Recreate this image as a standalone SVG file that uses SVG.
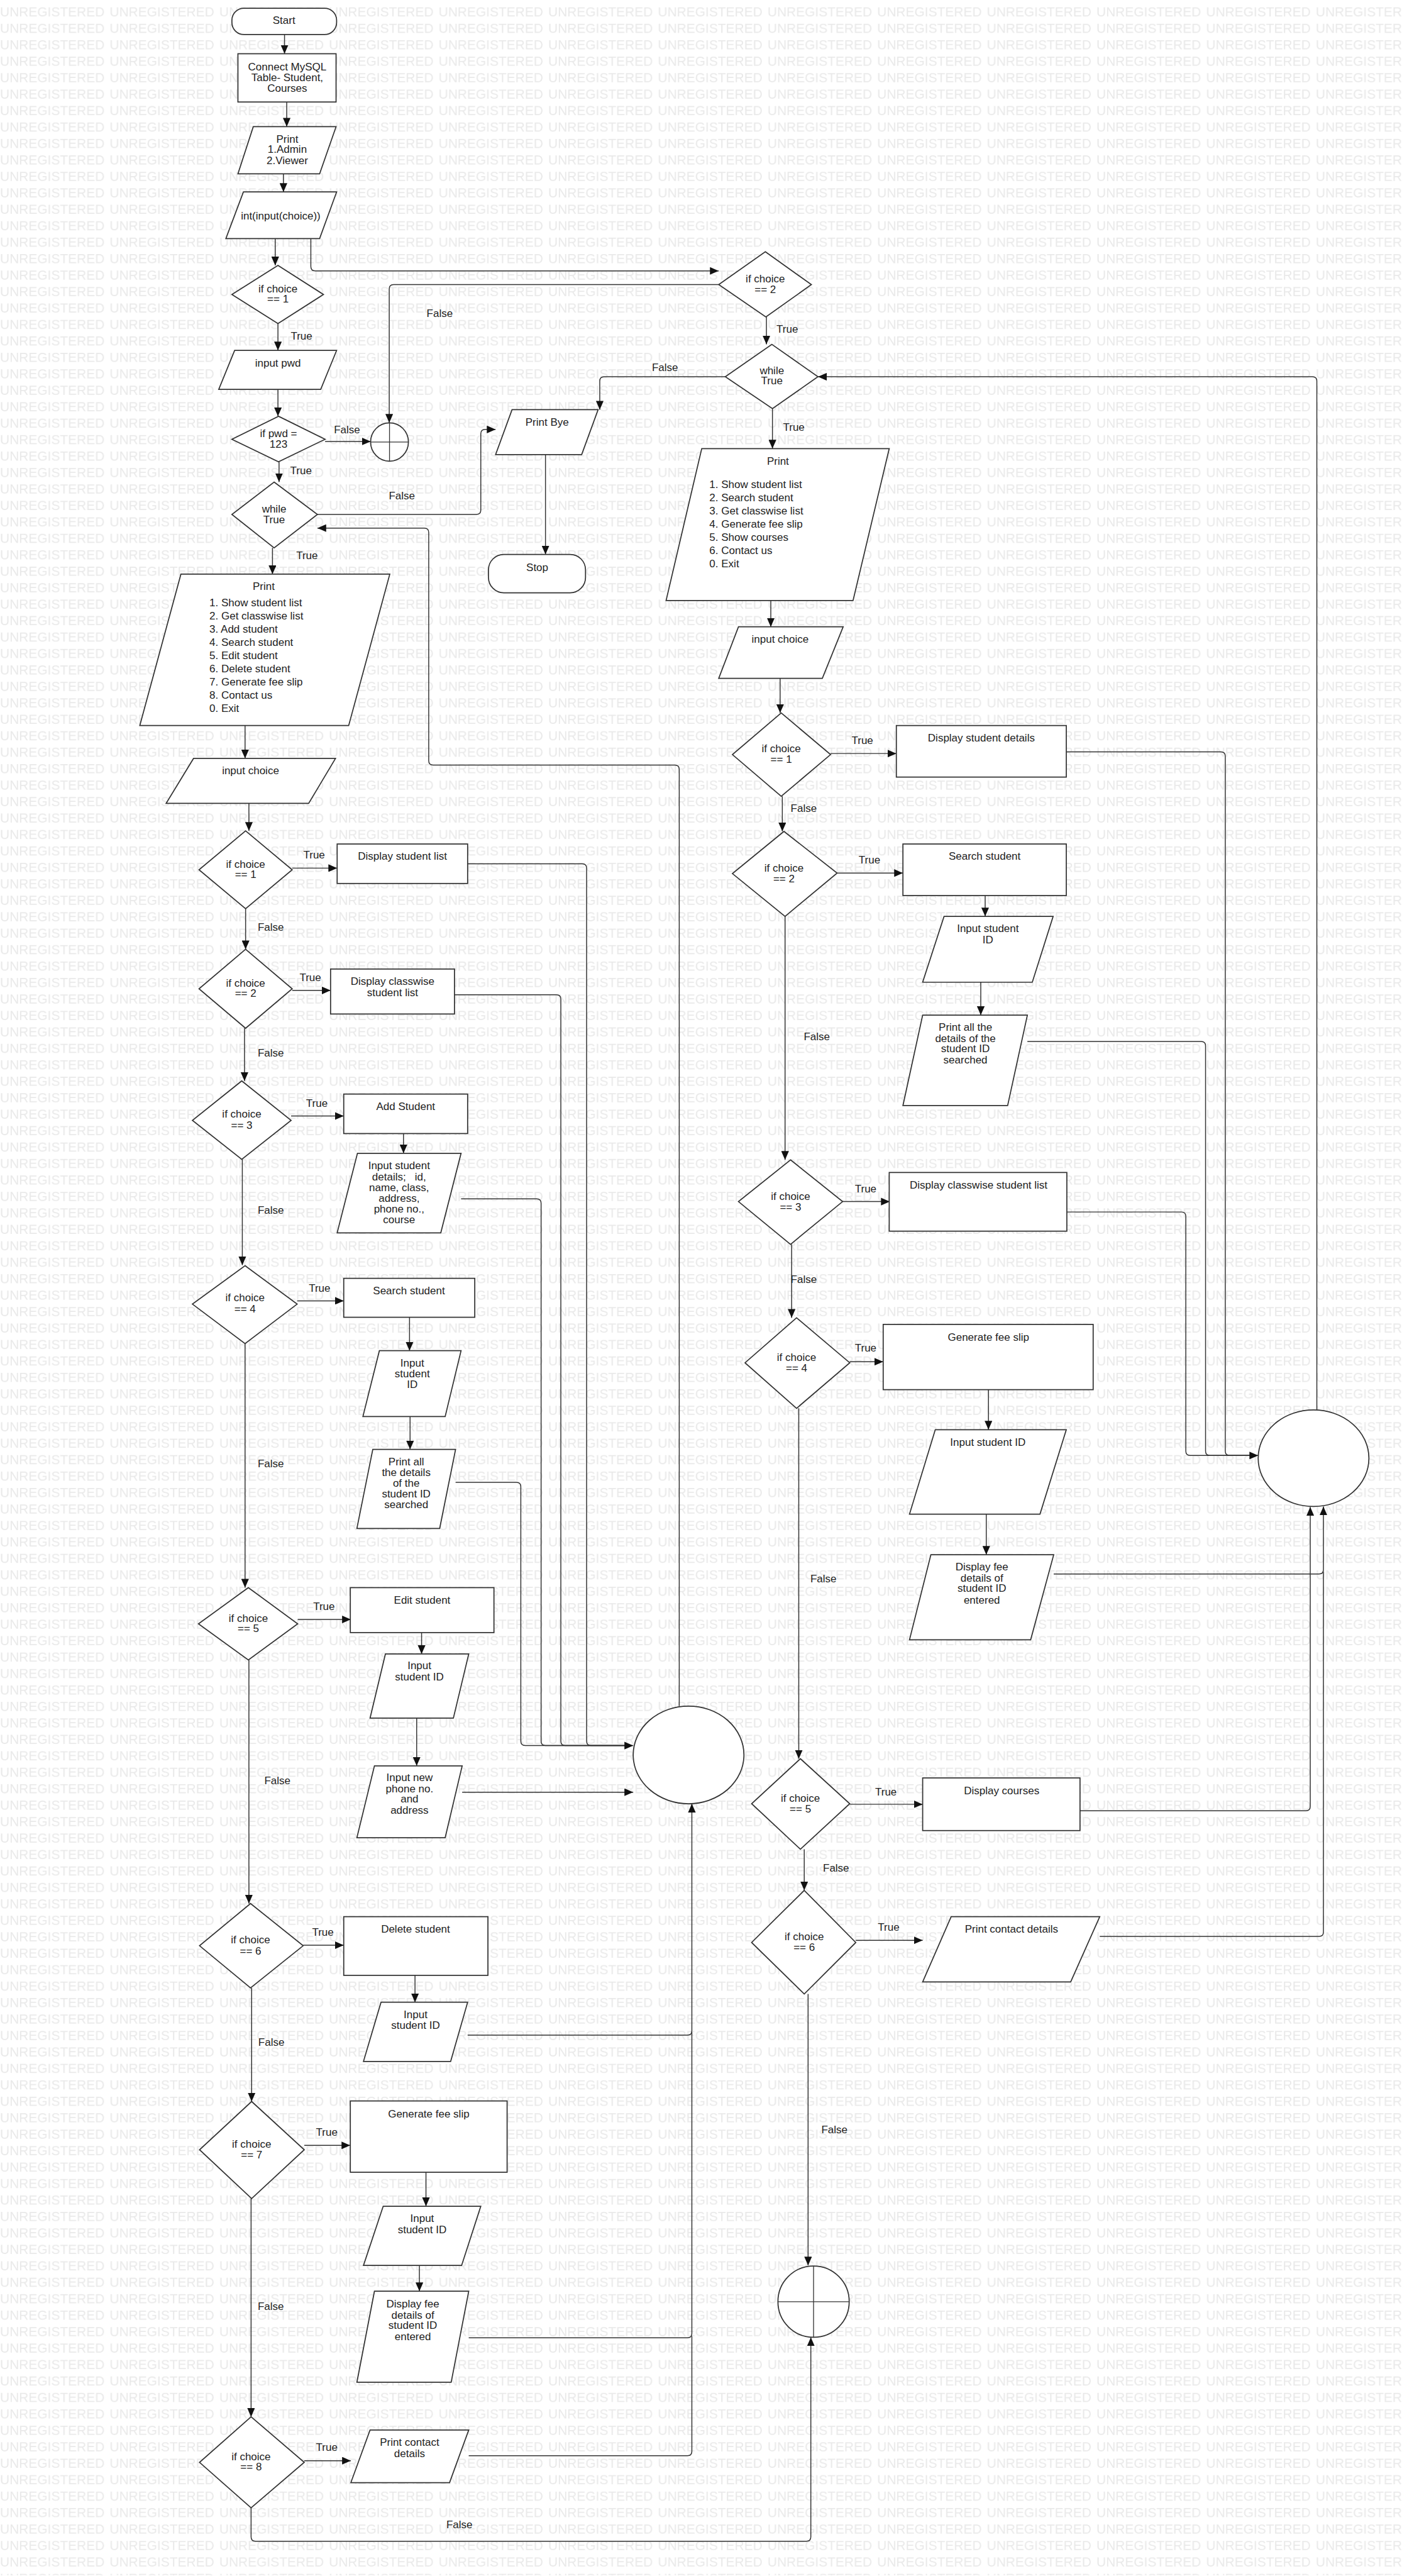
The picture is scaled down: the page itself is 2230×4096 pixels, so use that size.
<svg xmlns="http://www.w3.org/2000/svg" width="2230" height="4096" viewBox="0 0 2230 4096">
<defs>
<style>
.s{fill:#fff;stroke:#333;stroke-width:2}
.c{fill:none;stroke:#333;stroke-width:1.7}
.a{marker-end:url(#ah)}
.t{font-family:"Liberation Sans",Arial,sans-serif;font-size:19.5px;fill:#222;text-anchor:middle}
.l{font-family:"Liberation Sans",Arial,sans-serif;font-size:19.5px;fill:#222}
.x{fill:none;stroke:#333;stroke-width:1.5}
</style>
<marker id="ah" viewBox="0 0 16 14" refX="16" refY="7" markerWidth="16" markerHeight="14" markerUnits="userSpaceOnUse" orient="auto"><path d="M0,0 L16,7 L0,14 z" fill="#111"/></marker>
<pattern id="wm" x="0" y="10" width="200" height="30" patternUnits="userSpaceOnUse"><text x="0" y="20.5" font-family="Liberation Sans, Arial, sans-serif" font-size="24" fill="#e9e9e9">UNREGISTERED</text></pattern>
</defs>
<rect width="2230" height="4096" fill="#fff"/>
<g transform="scale(0.872)">
<rect width="2557" height="4696" fill="url(#wm)"/>
<g id="connectors">
<path class="c a" d="M519,63 V98"/>
<path class="c a" d="M523,186 V231"/>
<path class="c a" d="M517,317 V350"/>
<path class="c a" d="M502,435 V484"/>
<path class="c a" d="M567,435 V486 Q567,494 575,494 H1311"/>
<path class="c a" d="M1311,519 H718 Q710,519 710,527 V771"/>
<path class="c a" d="M507,590 V639"/>
<path class="c a" d="M507,710 V759"/>
<path class="c a" d="M593,805 H676"/>
<path class="c a" d="M509,842 V879"/>
<path class="c a" d="M497,999 V1047"/>
<path class="c a" d="M579,938 H869 Q877,938 877,930 V791 Q877,783 885,783 H904"/>
<path class="c a" d="M1398,578 V628"/>
<path class="c a" d="M1323,687 H1102 Q1094,687 1094,695 V747"/>
<path class="c a" d="M995,829 V1011"/>
<path class="c a" d="M1409,745 V818"/>
<path class="c a" d="M2402,2571 V695 Q2402,687 2394,687 H1492"/>
<path class="c a" d="M1239,3111 V1403 Q1239,1395 1231,1395 H790 Q782,1395 782,1387 V971 Q782,963 774,963 H579"/>
<path class="c a" d="M447,1323 V1383"/>
<path class="c a" d="M454,1465 V1515"/>
<path class="c a" d="M533,1583 H615"/>
<path class="c" d="M853,1575 H1062 Q1070,1575 1070,1583 V3175 Q1070,3183 1078,3183 H1150"/>
<path class="c a" d="M448,1657 V1731"/>
<path class="c a" d="M533,1806 H603"/>
<path class="c" d="M829,1814 H1015 Q1023,1814 1023,1822 V3175 Q1023,3183 1031,3183 H1150"/>
<path class="c a" d="M446,1875 V1971"/>
<path class="c a" d="M531,2035 H627"/>
<path class="c a" d="M736,2067 V2103"/>
<path class="c" d="M841,2186 H979 Q987,2186 987,2194 V3175 Q987,3183 995,3183 H1150"/>
<path class="c a" d="M442,2114 V2307"/>
<path class="c a" d="M542,2372 H627"/>
<path class="c a" d="M747,2402 V2463"/>
<path class="c a" d="M748,2583 V2643"/>
<path class="c a" d="M831,2703 H942 Q950,2703 950,2711 V3175 Q950,3183 958,3183 H1155"/>
<path class="c a" d="M447,2450 V2895"/>
<path class="c a" d="M543,2953 H640"/>
<path class="c a" d="M769,2977 V3016"/>
<path class="c a" d="M760,3133 V3220"/>
<path class="c a" d="M843,3268 H1155"/>
<path class="c a" d="M454,3027 V3471"/>
<path class="c a" d="M553,3547 H627"/>
<path class="c a" d="M757,3602 V3651"/>
<path class="c a" d="M853,3711 H1254 Q1262,3711 1262,3703 V3289"/>
<path class="c a" d="M459,3625 V3832"/>
<path class="c a" d="M555,3912 H639"/>
<path class="c a" d="M777,3961 V4023"/>
<path class="c a" d="M765,4131 V4178"/>
<path class="c" d="M855,4263 H1254 Q1262,4263 1262,4255 V3705"/>
<path class="c a" d="M458,4009 V4407"/>
<path class="c a" d="M555,4487 H640"/>
<path class="c" d="M855,4478 H1254 Q1262,4478 1262,4470 V4260"/>
<path class="c a" d="M458,4573 V4626 Q458,4634 466,4634 H1471 Q1479,4634 1479,4626 V4262"/>
<path class="c a" d="M1406,1095 V1143"/>
<path class="c a" d="M1423,1237 V1300"/>
<path class="c a" d="M1515,1374 H1635"/>
<path class="c" d="M1945,1371 H2227 Q2235,1371 2235,1379 V2646 Q2235,2654 2243,2654 H2290"/>
<path class="c a" d="M1427,1452 V1516"/>
<path class="c a" d="M1527,1592 H1647"/>
<path class="c a" d="M1797,1633 V1671"/>
<path class="c a" d="M1789,1791 V1851"/>
<path class="c" d="M1874,1899 H2191 Q2199,1899 2199,1907 V2646 Q2199,2654 2207,2654 H2290"/>
<path class="c a" d="M1432,1671 V2115"/>
<path class="c a" d="M1537,2191 H1623"/>
<path class="c a" d="M1946,2210 H2155 Q2163,2210 2163,2218 V2646 Q2163,2654 2171,2654 H2295"/>
<path class="c a" d="M1444,2269 V2403"/>
<path class="c a" d="M1550,2483 H1611"/>
<path class="c a" d="M1803,2534 V2607"/>
<path class="c a" d="M1799,2761 V2835"/>
<path class="c a" d="M1922,2870 H2406 Q2414,2870 2414,2862 V2747"/>
<path class="c a" d="M1457,2568 V3207"/>
<path class="c a" d="M1550,3290 H1683"/>
<path class="c a" d="M1970,3302 H2382 Q2390,3302 2390,3294 V2748"/>
<path class="c a" d="M1467,3372 V3447"/>
<path class="c a" d="M1561,3538 H1683"/>
<path class="c" d="M2006,3531 H2406 Q2414,3531 2414,3523 V2866"/>
<path class="c a" d="M1474,3636 V4131"/>
<g id="labels">
<text class="t" x="550" y="619">True</text>
<text class="t" x="633" y="790">False</text>
<text class="t" x="549" y="865">True</text>
<text class="t" x="802" y="578">False</text>
<text class="t" x="560" y="1019">True</text>
<text class="t" x="733" y="911">False</text>
<text class="t" x="1436" y="607">True</text>
<text class="t" x="1213" y="677">False</text>
<text class="t" x="1448" y="785">True</text>
<text class="t" x="573" y="1565">True</text>
<text class="t" x="494" y="1697">False</text>
<text class="t" x="566" y="1789">True</text>
<text class="t" x="494" y="1927">False</text>
<text class="t" x="578" y="2018">True</text>
<text class="t" x="494" y="2213">False</text>
<text class="t" x="583" y="2356">True</text>
<text class="t" x="494" y="2675">False</text>
<text class="t" x="591" y="2936">True</text>
<text class="t" x="506" y="3253">False</text>
<text class="t" x="589" y="3530">True</text>
<text class="t" x="495" y="3731">False</text>
<text class="t" x="596" y="3895">True</text>
<text class="t" x="494" y="4212">False</text>
<text class="t" x="596" y="4469">True</text>
<text class="t" x="838" y="4610">False</text>
<text class="t" x="1573" y="1357">True</text>
<text class="t" x="1466" y="1481">False</text>
<text class="t" x="1586" y="1574">True</text>
<text class="t" x="1490" y="1897">False</text>
<text class="t" x="1579" y="2174">True</text>
<text class="t" x="1466" y="2339">False</text>
<text class="t" x="1579" y="2465">True</text>
<text class="t" x="1502" y="2885">False</text>
<text class="t" x="1616" y="3274">True</text>
<text class="t" x="1525" y="3413">False</text>
<text class="t" x="1621" y="3521">True</text>
<text class="t" x="1522" y="3890">False</text>
</g>
</g>
<g id="start"><rect class="s" x="423" y="15" width="191" height="48" rx="22"/><text class="t" x="518" y="44">Start</text></g>
<g id="connect"><rect class="s" x="434" y="98" width="179" height="88"/><text class="t" x="524" y="128">Connect MySQL</text><text class="t" x="524" y="148">Table- Student,</text><text class="t" x="524" y="168">Courses</text></g>
<g id="printRole"><polygon class="s" points="462,231 613,231 583,317 434,317"/><text class="t" x="524" y="260">Print</text><text class="t" x="524" y="279">1.Admin</text><text class="t" x="524" y="299">2.Viewer</text></g>
<g id="inputChoice0"><polygon class="s" points="444,350 614,350 583,435 412,435"/><text class="t" x="512" y="400">int(input(choice))</text></g>
<g id="c1"><polygon class="s" points="507,484 590,537 507,590 423,537"/><text class="t" x="507" y="533">if choice</text><text class="t" x="507" y="552">== 1</text></g>
<g id="inputPwd"><polygon class="s" points="428,639 614,639 585,710 399,710"/><text class="t" x="507" y="669">input pwd</text></g>
<g id="pwd"><polygon class="s" points="508,759 593,801 508,842 423,801"/><text class="t" x="508" y="797">if pwd =</text><text class="t" x="508" y="816">123</text></g>
<g id="conn1"><ellipse class="s" cx="710.5" cy="806" rx="34.5" ry="35"/><path class="x" d="M676,806 H745 M710.5,771 V841"/></g>
<g id="whileL"><polygon class="s" points="500,879 579,938 500,999 423,938"/><text class="t" x="500" y="935">while</text><text class="t" x="500" y="954">True</text></g>
<g id="printBye"><polygon class="s" points="934,747 1091,747 1061,829 904,829"/><text class="t" x="998" y="776">Print Bye</text></g>
<g id="stop"><rect class="s" x="891" y="1011" width="177" height="70" rx="28"/><text class="t" x="980" y="1041">Stop</text></g>
<g id="menuL"><polygon class="s" points="330,1047 711,1047 636,1323 255,1323"/><text class="t" x="481" y="1076">Print</text>
<text class="l" x="382" y="1106">1. Show student list</text>
<text class="l" x="382" y="1130">2. Get classwise list</text>
<text class="l" x="382" y="1154">3. Add student</text>
<text class="l" x="382" y="1178">4. Search student</text>
<text class="l" x="382" y="1202">5. Edit student</text>
<text class="l" x="382" y="1226">6. Delete student</text>
<text class="l" x="382" y="1250">7. Generate fee slip</text>
<text class="l" x="382" y="1274">8. Contact us</text>
<text class="l" x="382" y="1298">0. Exit</text></g>
<g id="inputChoiceL"><polygon class="s" points="353,1383 612,1383 563,1465 303,1465"/><text class="t" x="457" y="1412">input choice</text></g>
<g id="l1"><polygon class="s" points="448,1515 533,1586 448,1657 363,1586"/><text class="t" x="448" y="1582">if choice</text><text class="t" x="448" y="1601">== 1</text></g>
<g id="dispList"><rect class="s" x="615" y="1539" width="238" height="72"/><text class="t" x="734" y="1568">Display student list</text></g>
<g id="l2"><polygon class="s" points="448,1731 533,1803 448,1875 363,1803"/><text class="t" x="448" y="1799">if choice</text><text class="t" x="448" y="1818">== 2</text></g>
<g id="dispClass"><rect class="s" x="603" y="1767" width="226" height="82"/><text class="t" x="716" y="1796">Display classwise</text><text class="t" x="716" y="1816">student list</text></g>
<g id="l3"><polygon class="s" points="441,1971 531,2043 441,2114 351,2043"/><text class="t" x="441" y="2038">if choice</text><text class="t" x="441" y="2058">== 3</text></g>
<g id="addStudent"><rect class="s" x="627" y="1995" width="226" height="72"/><text class="t" x="740" y="2024">Add Student</text></g>
<g id="inputDetails"><polygon class="s" points="652,2103 841,2103 804,2248 615,2248"/><text class="t" x="728" y="2132">Input student</text><text class="t" x="728" y="2152" style="white-space:pre">details;   id,</text><text class="t" x="728" y="2172">name, class,</text><text class="t" x="728" y="2191">address,</text><text class="t" x="728" y="2211">phone no.,</text><text class="t" x="728" y="2230">course</text></g>
<g id="l4"><polygon class="s" points="447,2308 542,2378 447,2450 351,2378"/><text class="t" x="447" y="2373">if choice</text><text class="t" x="447" y="2393">== 4</text></g>
<g id="searchL"><rect class="s" x="627" y="2331" width="239" height="71"/><text class="t" x="746" y="2360">Search student</text></g>
<g id="inputIdL4"><polygon class="s" points="692,2463 841,2463 812,2583 662,2583"/><text class="t" x="752" y="2492">Input</text><text class="t" x="752" y="2512">student</text><text class="t" x="752" y="2531">ID</text></g>
<g id="printAllL"><polygon class="s" points="680,2643 831,2643 802,2787 651,2787"/><text class="t" x="741" y="2672">Print all</text><text class="t" x="741" y="2692">the details</text><text class="t" x="741" y="2711">of the</text><text class="t" x="741" y="2731">student ID</text><text class="t" x="741" y="2750">searched</text></g>
<g id="l5"><polygon class="s" points="453,2895 543,2961 453,3027 362,2961"/><text class="t" x="453" y="2957">if choice</text><text class="t" x="453" y="2976">== 5</text></g>
<g id="editStudent"><rect class="s" x="639" y="2895" width="262" height="82"/><text class="t" x="770" y="2924">Edit student</text></g>
<g id="inputIdL5"><polygon class="s" points="703,3016 855,3016 827,3133 675,3133"/><text class="t" x="765" y="3044">Input</text><text class="t" x="765" y="3064">student ID</text></g>
<g id="inputNew"><polygon class="s" points="683,3220 843,3220 812,3351 651,3351"/><text class="t" x="747" y="3248">Input new</text><text class="t" x="747" y="3268">phone no.</text><text class="t" x="747" y="3287">and</text><text class="t" x="747" y="3307">address</text></g>
<g id="mergeL"><ellipse class="s" cx="1256" cy="3200" rx="101" ry="89"/></g>
<g id="l6"><polygon class="s" points="457,3471 553,3548 457,3625 364,3548"/><text class="t" x="457" y="3544">if choice</text><text class="t" x="457" y="3564">== 6</text></g>
<g id="deleteStudent"><rect class="s" x="627" y="3495" width="263" height="107"/><text class="t" x="758" y="3524">Delete student</text></g>
<g id="inputIdL6"><polygon class="s" points="695,3651 853,3651 822,3759 663,3759"/><text class="t" x="758" y="3680">Input</text><text class="t" x="758" y="3700">student ID</text></g>
<g id="l7"><polygon class="s" points="459,3832 555,3920 459,4009 364,3920"/><text class="t" x="459" y="3916">if choice</text><text class="t" x="459" y="3936">== 7</text></g>
<g id="feeSlipL"><rect class="s" x="639" y="3831" width="286" height="130"/><text class="t" x="782" y="3861">Generate fee slip</text></g>
<g id="inputIdL7"><polygon class="s" points="699,4023 877,4023 842,4131 663,4131"/><text class="t" x="770" y="4052">Input</text><text class="t" x="770" y="4072">student ID</text></g>
<g id="dispFeeL"><polygon class="s" points="683,4178 855,4178 823,4344 651,4344"/><text class="t" x="753" y="4208">Display fee</text><text class="t" x="753" y="4228">details of</text><text class="t" x="753" y="4247">student ID</text><text class="t" x="753" y="4267">entered</text></g>
<g id="l8"><polygon class="s" points="458,4407 555,4490 458,4573 364,4490"/><text class="t" x="458" y="4486">if choice</text><text class="t" x="458" y="4505">== 8</text></g>
<g id="contactL"><polygon class="s" points="675,4431 855,4431 820,4527 640,4527"/><text class="t" x="747" y="4460">Print contact</text><text class="t" x="747" y="4480">details</text></g>
<g id="c2"><polygon class="s" points="1396,459 1480,519 1397,578 1311,519"/><text class="t" x="1396" y="515">if choice</text><text class="t" x="1396" y="534">== 2</text></g>
<g id="whileR"><polygon class="s" points="1408,628 1492,687 1409,745 1323,687"/><text class="t" x="1408" y="682">while</text><text class="t" x="1408" y="701">True</text></g>
<g id="menuR"><polygon class="s" points="1280,818 1622,818 1556,1095 1215,1095"/><text class="t" x="1419" y="848">Print</text>
<text class="l" x="1294" y="890">1. Show student list</text>
<text class="l" x="1294" y="914">2. Search student</text>
<text class="l" x="1294" y="938">3. Get classwise list</text>
<text class="l" x="1294" y="962">4. Generate fee slip</text>
<text class="l" x="1294" y="986">5. Show courses</text>
<text class="l" x="1294" y="1010">6. Contact us</text>
<text class="l" x="1294" y="1034">0. Exit</text></g>
<g id="inputChoiceR"><polygon class="s" points="1347,1143 1538,1143 1500,1237 1311,1237"/><text class="t" x="1423" y="1172">input choice</text></g>
<g id="r1"><polygon class="s" points="1425,1300 1515,1376 1425,1452 1336,1376"/><text class="t" x="1425" y="1372">if choice</text><text class="t" x="1425" y="1391">== 1</text></g>
<g id="dispDetailsR"><rect class="s" x="1635" y="1323" width="310" height="94"/><text class="t" x="1790" y="1352">Display student details</text></g>
<g id="r2"><polygon class="s" points="1430,1516 1527,1592 1432,1671 1336,1593"/><text class="t" x="1430" y="1589">if choice</text><text class="t" x="1430" y="1609">== 2</text></g>
<g id="searchR"><rect class="s" x="1647" y="1539" width="298" height="94"/><text class="t" x="1796" y="1568">Search student</text></g>
<g id="inputIdR2"><polygon class="s" points="1722,1671 1921,1671 1883,1791 1683,1791"/><text class="t" x="1802" y="1700">Input student</text><text class="t" x="1802" y="1720">ID</text></g>
<g id="printAllR"><polygon class="s" points="1683,1851 1874,1851 1838,2016 1647,2016"/><text class="t" x="1761" y="1880">Print all the</text><text class="t" x="1761" y="1900">details of the</text><text class="t" x="1761" y="1919">student ID</text><text class="t" x="1761" y="1939">searched</text></g>
<g id="r3"><polygon class="s" points="1442,2115 1537,2191 1442,2269 1347,2191"/><text class="t" x="1442" y="2188">if choice</text><text class="t" x="1442" y="2207">== 3</text></g>
<g id="dispClassR"><rect class="s" x="1622" y="2138" width="324" height="107"/><text class="t" x="1785" y="2168">Display classwise student list</text></g>
<g id="r4"><polygon class="s" points="1453,2403 1550,2485 1453,2568 1359,2485"/><text class="t" x="1453" y="2482">if choice</text><text class="t" x="1453" y="2501">== 4</text></g>
<g id="feeSlipR"><rect class="s" x="1611" y="2415" width="383" height="119"/><text class="t" x="1803" y="2445">Generate fee slip</text></g>
<g id="inputIdR4"><polygon class="s" points="1706,2607 1945,2607 1897,2761 1659,2761"/><text class="t" x="1802" y="2637">Input student ID</text></g>
<g id="dispFeeR"><polygon class="s" points="1698,2835 1922,2835 1880,2990 1659,2990"/><text class="t" x="1791" y="2864">Display fee</text><text class="t" x="1791" y="2884">details of</text><text class="t" x="1791" y="2903">student ID</text><text class="t" x="1791" y="2924">entered</text></g>
<g id="mergeR"><ellipse class="s" cx="2396" cy="2659" rx="101" ry="88"/></g>
<g id="r5"><polygon class="s" points="1460,3207 1550,3289 1460,3372 1371,3289"/><text class="t" x="1460" y="3286">if choice</text><text class="t" x="1460" y="3305">== 5</text></g>
<g id="coursesR"><rect class="s" x="1683" y="3242" width="287" height="96"/><text class="t" x="1827" y="3272">Display courses</text></g>
<g id="r6"><polygon class="s" points="1467,3447 1561,3542 1467,3636 1371,3542"/><text class="t" x="1467" y="3538">if choice</text><text class="t" x="1467" y="3557">== 6</text></g>
<g id="contactR"><polygon class="s" points="1735,3495 2006,3495 1953,3614 1683,3614"/><text class="t" x="1845" y="3524">Print contact details</text></g>
<g id="conn2"><ellipse class="s" cx="1484" cy="4197" rx="65" ry="65"/><path class="x" d="M1419,4197 H1549 M1484,4132 V4262"/></g>
</g>
</svg>
